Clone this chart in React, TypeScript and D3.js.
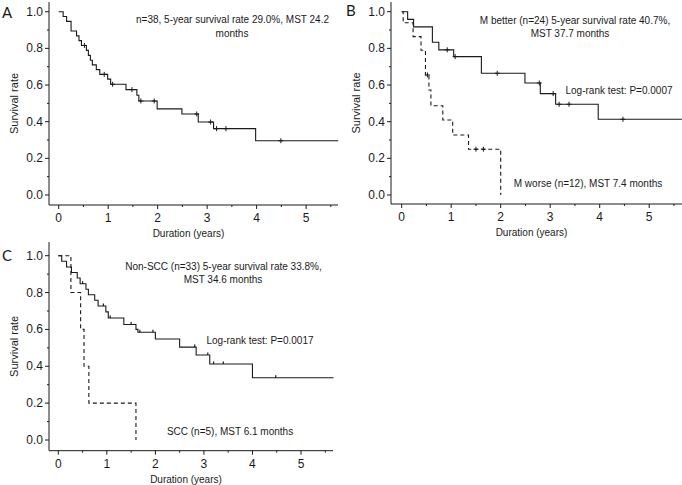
import React from 'react';
import * as d3 from 'd3';

// ---------- data ----------
const yearTicks = [0, 1, 2, 3, 4, 5];
const yearMinorTicks = [0.5, 1.5, 2.5, 3.5, 4.5, 5.5];
const rateTicks = [0, 0.2, 0.4, 0.6, 0.8, 1.0];
const rateMinorTicks = [0.1, 0.3, 0.5, 0.7, 0.9];

// Panel A: all patients (time in years, survival)
const allEvents: [number, number][] = [
  [0.09, 0.974], [0.16, 0.947], [0.25, 0.895], [0.36, 0.868], [0.41, 0.842], [0.46, 0.816],
  [0.56, 0.789], [0.60, 0.762], [0.64, 0.735], [0.68, 0.71], [0.76, 0.684], [0.83, 0.658],
  [0.99, 0.632], [1.05, 0.604], [1.36, 0.575], [1.58, 0.544], [1.62, 0.513], [1.99, 0.47],
  [2.49, 0.442], [2.82, 0.398], [3.13, 0.362], [3.98, 0.296], [5.65, 0.296],
];
const allCensored = [0.52, 0.92, 1.09, 1.48, 1.66, 1.93, 2.79, 3.07, 3.19, 3.38, 4.49];

// Panel B: M better / M worse
const betterEvents: [number, number][] = [
  [0.12, 0.958], [0.24, 0.917], [0.62, 0.833], [0.75, 0.792], [1.05, 0.755], [1.61, 0.664],
  [2.49, 0.611], [2.8, 0.553], [3.11, 0.495], [3.97, 0.413], [5.66, 0.413],
];
const betterCensored = [0.92, 1.08, 1.93, 2.78, 3.06, 3.18, 3.38, 4.47];
const worseEvents: [number, number][] = [
  [0.03, 0.94], [0.23, 0.864], [0.39, 0.79], [0.48, 0.655], [0.55, 0.573], [0.59, 0.487],
  [0.83, 0.409], [1.03, 0.327], [1.35, 0.25], [2.0, 0.0],
];
const worseCensored = [0.52, 1.5, 1.65];

// Panel C: Non-SCC / SCC
const nonSccEvents: [number, number][] = [
  [0.07, 0.97], [0.17, 0.939], [0.27, 0.909], [0.39, 0.879], [0.45, 0.848], [0.57, 0.818],
  [0.62, 0.788], [0.75, 0.758], [0.82, 0.727], [0.98, 0.695], [1.03, 0.662], [1.35, 0.627],
  [1.6, 0.6], [1.64, 0.585], [2.0, 0.548], [2.5, 0.504], [2.84, 0.461], [3.12, 0.412],
  [4.0, 0.338], [5.67, 0.338],
];
const nonSccCensored = [0.5, 0.93, 1.07, 1.5, 1.68, 1.95, 2.81, 3.08, 3.2, 3.4, 4.48];
const sccEvents: [number, number][] = [
  [0.26, 0.8], [0.46, 0.6], [0.53, 0.4], [0.63, 0.2], [1.6, 0.0],
];

const FONT = "'Liberation Sans', Arial, Helvetica, sans-serif";
const INK = '#1a1a1a';

type Curve = { events: [number, number][]; censored: number[]; dashed?: boolean; mark: 'plus' | 'tick' };
type Label = { text: string; x: number; y: number; anchor?: string };

type PanelProps = {
  letter: string;
  letterX: number;
  letterY: number;
  x0: number; x5: number; y0: number; y1: number;
  axisX: number; axisY: number; axisTop: number; axisRight: number;
  curves: Curve[];
  labels: Label[];
};

function valueAt(events: [number, number][], t: number) {
  let s = 1;
  for (const [et, es] of events) {
    if (et <= t) s = es;
    else break;
  }
  return s;
}

function Panel(p: PanelProps) {
  const x = d3.scaleLinear().domain([0, 5]).range([p.x0, p.x5]);
  const y = d3.scaleLinear().domain([0, 1]).range([p.y0, p.y1]);
  const line = d3
    .line<[number, number]>()
    .x((d) => x(d[0]))
    .y((d) => y(d[1]))
    .curve(d3.curveStepAfter);
  const titleCenterX = (p.axisX + p.axisRight) / 2 - 5;
  return (
    <g>
      <text x={p.letterX} y={p.letterY} fontSize={15} fontFamily="Lato, 'DejaVu Sans', sans-serif" fill={INK}>
        {p.letter}
      </text>
      {/* axes */}
      <line x1={p.axisX} x2={p.axisX} y1={p.axisTop} y2={p.axisY} stroke={INK} strokeWidth={1} />
      <line x1={p.axisX} x2={p.axisRight} y1={p.axisY} y2={p.axisY} stroke={INK} strokeWidth={1} />
      {rateTicks.map((v) => (
        <g key={'yt' + v}>
          <line x1={p.axisX - 4} x2={p.axisX} y1={y(v)} y2={y(v)} stroke={INK} />
          <text x={p.axisX - 6} y={y(v) + 4} textAnchor="end" fontSize={12} fontFamily={FONT} fill={INK}>
            {v.toFixed(1)}
          </text>
        </g>
      ))}
      {rateMinorTicks.map((v) => (
        <line key={'ym' + v} x1={p.axisX - 2} x2={p.axisX} y1={y(v)} y2={y(v)} stroke={INK} />
      ))}
      {yearTicks.map((v) => (
        <g key={'xt' + v}>
          <line x1={x(v)} x2={x(v)} y1={p.axisY} y2={p.axisY + 4} stroke={INK} />
          <text x={x(v)} y={p.axisY + 17} textAnchor="middle" fontSize={12} fontFamily={FONT} fill={INK}>
            {v}
          </text>
        </g>
      ))}
      {yearMinorTicks
        .filter((v) => x(v) < p.axisRight)
        .map((v) => (
          <line key={'xm' + v} x1={x(v)} x2={x(v)} y1={p.axisY} y2={p.axisY + 2} stroke={INK} />
        ))}
      <text x={titleCenterX} y={p.axisY + 32} textAnchor="middle" fontSize={10} fontFamily={FONT} fill={INK}>
        Duration (years)
      </text>
      <text
        transform={`translate(${p.axisX - 31},${(p.axisTop + p.axisY) / 2}) rotate(-90)`}
        textAnchor="middle"
        fontSize={11}
        fontFamily={FONT}
        fill={INK}
      >
        Survival rate
      </text>
      {/* curves */}
      {p.curves.map((c, i) => {
        const pts: [number, number][] = [[0, 1], ...c.events];
        return (
          <g key={'c' + i}>
            <path
              d={line(pts) || ''}
              fill="none"
              stroke={INK}
              strokeWidth={1.1}
              strokeDasharray={c.dashed ? '4,3' : undefined}
            />
            {c.censored.map((t, j) => {
              const cx = x(t);
              const cy = y(valueAt(c.events, t));
              return c.mark === 'plus' ? (
                <g key={j}>
                  <line x1={cx - 2.5} x2={cx + 2.5} y1={cy} y2={cy} stroke={INK} strokeWidth={1} />
                  <line x1={cx} x2={cx} y1={cy - 2.5} y2={cy + 2.5} stroke={INK} strokeWidth={1} />
                </g>
              ) : (
                <line key={j} x1={cx} x2={cx} y1={cy - 2.5} y2={cy} stroke={INK} strokeWidth={1.2} />
              );
            })}
          </g>
        );
      })}
      {p.labels.map((l, i) => (
        <text
          key={'l' + i}
          x={l.x}
          y={l.y}
          textAnchor={(l.anchor as any) || 'middle'}
          fontSize={10}
          fontFamily={FONT}
          fill={INK}
        >
          {l.text}
        </text>
      ))}
    </g>
  );
}

export default function App() {
  return (
    <svg
      width={682}
      height={485}
      viewBox="0 0 682 485"
      style={{ position: 'absolute', left: 0, top: 0, background: '#fff' }}
    >
      <rect width={682} height={485} fill="#fff" />
      <Panel
        letter="A"
        letterX={2}
        letterY={18}
        x0={58.7}
        x5={306.1}
        y0={195}
        y1={11.7}
        axisX={49}
        axisY={205}
        axisTop={2}
        axisRight={338}
        curves={[{ events: allEvents, censored: allCensored, mark: 'plus' }]}
        labels={[
          { text: 'n=38, 5-year survival rate 29.0%, MST 24.2', x: 232.5, y: 23 },
          { text: 'months', x: 232, y: 37 },
        ]}
      />
      <Panel
        letter="B"
        letterX={346}
        letterY={16}
        x0={401.7}
        x5={649.2}
        y0={195}
        y1={11.7}
        axisX={391}
        axisY={204}
        axisTop={2}
        axisRight={682}
        curves={[
          { events: betterEvents, censored: betterCensored, mark: 'plus' },
          { events: worseEvents, censored: worseCensored, mark: 'plus', dashed: true },
        ]}
        labels={[
          { text: 'M better (n=24) 5-year survival rate 40.7%,', x: 575, y: 24 },
          { text: 'MST 37.7 months', x: 570, y: 37 },
          { text: 'Log-rank test: P=0.0007', x: 619, y: 94 },
          { text: 'M worse (n=12), MST 7.4 months', x: 588, y: 187 },
        ]}
      />
      <Panel
        letter="C"
        letterX={2}
        letterY={261}
        x0={58.3}
        x5={301}
        y0={440}
        y1={255.7}
        axisX={49}
        axisY={450.7}
        axisTop={242}
        axisRight={333}
        curves={[
          { events: nonSccEvents, censored: nonSccCensored, mark: 'tick' },
          { events: sccEvents, censored: [], mark: 'tick', dashed: true },
        ]}
        labels={[
          { text: 'Non-SCC (n=33) 5-year survival rate 33.8%,', x: 223.5, y: 270 },
          { text: 'MST 34.6 months', x: 223, y: 283 },
          { text: 'Log-rank test: P=0.0017', x: 260, y: 344 },
          { text: 'SCC (n=5), MST 6.1 months', x: 230, y: 435 },
        ]}
      />
    </svg>
  );
}
